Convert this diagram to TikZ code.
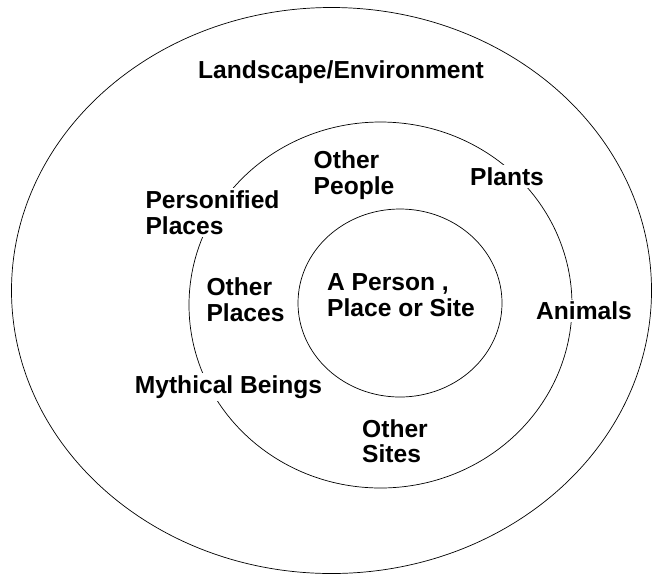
\documentclass[tikz,border=0pt]{standalone}
\usepackage{fontspec}
\setmainfont{Liberation Sans}
\begin{document}
\begin{tikzpicture}[
    x=0.03cm, y=-0.03cm,
    ring/.style={draw, line width=0.6pt},
    tag/.style={font=\bfseries\fontsize{21}{21.8}\selectfont, align=left, inner sep=2pt},
    cut/.style={tag, fill=white}
]
    \useasboundingbox (0,0) rectangle (652,576);

    % Centres of the three rings
    \coordinate (world) at (331.5,290.5);
    \coordinate (kin) at (380.5,305);
    \coordinate (core) at (400,303);

    % Rings
    \draw[ring] (world) ellipse [x radius=320, y radius=283];
    \draw[ring] (kin) ellipse [x radius=191.5, y radius=183];
    \draw[ring] (core) ellipse [x radius=102, y radius=94];

    % Outer ring
    \node[tag] (landscape) at (341,72.5) {Landscape/Environment};

    % Middle ring, labels sitting on the line
    \node[cut] (personified) at (212.5,212.5) {Personified\\Places};
    \node[cut] (plants) at (507,176.5) {Plants};
    \node[cut] (animals) at (584,311) {Animals};
    \node[cut] (mythical) at (228.5,387) {Mythical Beings};

    % Middle ring, labels inside
    \node[tag] (people) at (354,175) {Other\\People};
    \node[tag] (places) at (245.5,299.5) {Other\\Places};
    \node[tag] (sites) at (395,441) {Other\\Sites};

    % Core
    \node[tag] (person) at (401,295) {A Person ,\\Place or Site};
\end{tikzpicture}
\end{document}
